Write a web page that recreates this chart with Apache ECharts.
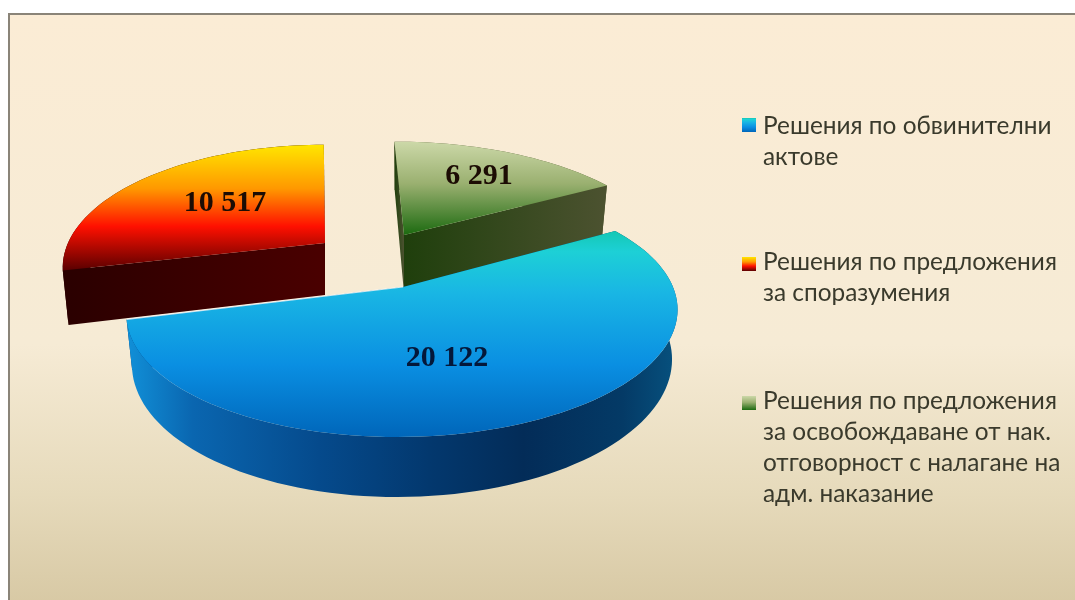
<!DOCTYPE html>
<html>
<head>
    <meta charset="utf-8">
    <title>Решения</title>
    <script src="https://cdn.jsdelivr.net/npm/echarts@6/dist/echarts.min.js"></script>
    <style>
        html, body { margin: 0; padding: 0; background: #fff; }
        #mainChart { width: 1075px; height: 600px; }
    </style>
</head>
<body>
    <div id="mainChart"></div>

<script>
// chart data
const categories = [
    'Решения по обвинителни\nактове',
    'Решения по предложения\nза споразумения',
    'Решения по предложения\nза освобождаване от нак.\nотговорност с налагане на\nадм. наказание'
];
const values = [20122, 10517, 6291];

// pie look: first slice starts at this angle, clockwise from north
const firstAngle = 59;
const total = values.reduce((a, b) => a + b, 0);

function grad(x2, y2, stops) {
    return new echarts.graphic.LinearGradient(0, 0, x2, y2,
        stops.map(s => ({ offset: s[0], color: s[1] })));
}

// geometry + colours of each slice, drawn back to front by z
const sliceStyle = [
    {
        z: 3, ax: 403, ay: 287, rx: 270, ry: 120, skew: 5, turn: 0, depth: 48, labelX: 447, labelY: 358,
        top: [[0, '#14c8b4'], [0.1, '#1dd0d6'], [0.3, '#19b6e4'], [0.65, '#0a8fe2'], [1, '#0066ba']],
        rim: [[0, '#1190d8'], [0.12, '#0a66b0'], [0.35, '#054a8c'], [0.55, '#03386e'], [0.72, '#032c58'], [0.9, '#043a66'], [1, '#07527f']],
        cut: ['#003a75', '#003a75'], legendY: 118, textY: 111
    },
    {
        z: 2, ax: 325, ay: 243, rx: 257, ry: 118, skew: 0, turn: 2, depth: 52, labelX: 225, labelY: 203,
        top: [[0, '#ffe600'], [0.35, '#ff9800'], [0.65, '#ff1000'], [1, '#5a0000']],
        rim: [[0, '#2a0000'], [1, '#2a0000']],
        cut: ['#2a0000', '#4a0000'], legendY: 257, textY: 247
    },
    {
        z: 1, ax: 404, ay: 235, rx: 260, ry: 112, skew: -10, turn: 2, depth: 58, labelX: 479, labelY: 176,
        top: [[0, '#ccd8a8'], [0.45, '#9ab070'], [1, '#1c6a10']],
        rim: [[0, '#4a5028'], [1, '#4a5028']],
        cut: ['#1f3f0c', '#4c5230'], legendY: 396, textY: 386
    }
];
const perspective = 0.2;
const taper = 0.00042;

function project(s, deg, r, h) {
    const a = (deg + s.turn) * Math.PI / 180;
    const p = 1 / (1 + perspective * r * Math.cos(a));
    return [
        s.ax + (s.rx * r * Math.sin(a) + s.skew * r * Math.cos(a)) * p * (1 - taper * h),
        s.ay - s.ry * r * Math.cos(a) * p + h * p
    ];
}

function arcPoints(s, from, to, h) {
    const pts = [];
    const n = Math.ceil(Math.abs(to - from) / 2);
    for (let i = 0; i <= n; i++) pts.push(project(s, from + (to - from) * i / n, 1, h));
    return pts;
}

function formatValue(v) {
    return String(v).replace(/\B(?=(\d{3})+$)/g, ' ');
}

function renderSlice(index) {
    return function (params, api) {
        const s = sliceStyle[index];
        const before = values.slice(0, index).reduce((a, b) => a + b, 0);
        const from = firstAngle + before / total * 360;
        const to = from + api.value(0) / total * 360;

        const topArc = arcPoints(s, from, to, 0);
        const lowArc = arcPoints(s, from, to, s.depth);
        const apex = project(s, 0, 0, 0);
        const apexLow = project(s, 0, 0, s.depth);
        const children = [];

        const wall = {
            type: 'polygon',
            shape: { points: topArc.concat(lowArc.slice().reverse()) },
            style: { fill: grad(1, 0, s.rim) }
        };
        // back slices: outer wall goes behind the cut faces
        if (index !== 0) children.push(wall);
        [[from, 0], [to, 1]].forEach(c => {
            children.push({
                type: 'polygon',
                shape: { points: [apex, project(s, c[0], 1, 0), project(s, c[0], 1, s.depth), apexLow] },
                style: { fill: grad(1, 0, [[0, s.cut[0]], [1, s.cut[1]]]) }
            });
        });
        if (index === 0) children.push(wall);
        // top face
        children.push({
            type: 'polygon',
            shape: { points: [apex].concat(topArc) },
            style: { fill: grad(0, 1, s.top) }
        });
        if (index === 0) {
            // light edge where the big slice meets the red one
            children.push({
                type: 'polyline',
                shape: { points: [apex, topArc[topArc.length - 1]] },
                style: { stroke: 'rgba(255,255,255,0.75)', lineWidth: 1.2, fill: null }
            });
        }
        children.push({
            type: 'text',
            style: {
                text: formatValue(api.value(0)),
                x: s.labelX, y: s.labelY,
                align: 'center', verticalAlign: 'middle',
                font: 'bold 30px "Liberation Serif"',
                fill: index === 0 ? '#04183a' : '#1c0c04'
            }
        });
        return { type: 'group', children: children };
    };
}

const chart = echarts.init(document.getElementById('mainChart'), null, { renderer: 'canvas' });

// panel + legend
const graphicItems = [{
    type: 'rect',
    z: -1,
    shape: { x: 9, y: 14, width: 1080, height: 600 },
    style: {
        fill: grad(0, 1, [[0, '#fbecd5'], [0.55, '#f6ebd5'], [0.8, '#e6dabb'], [1, '#d6c7a2']]),
        stroke: '#8a8478', lineWidth: 2
    }
}];
categories.forEach((name, i) => {
    const s = sliceStyle[i];
    graphicItems.push({
        type: 'rect',
        shape: { x: 742, y: s.legendY, width: 14, height: 14 },
        style: { fill: grad(0, 1, s.top) }
    });
    graphicItems.push({
        type: 'text',
        x: 763, y: s.textY,
        style: {
            text: name,
            font: '24.4px Lato, "Noto Sans"',
            lineHeight: 31,
            fill: '#3a3a2c'
        }
    });
});

chart.setOption({
    animation: false,
    graphic: graphicItems,
    series: values.map((v, i) => ({
        type: 'custom',
        name: categories[i],
        coordinateSystem: 'none',
        z: sliceStyle[i].z,
        silent: true,
        renderItem: renderSlice(i),
        data: [[v]]
    }))
});
</script>
</body>
</html>
